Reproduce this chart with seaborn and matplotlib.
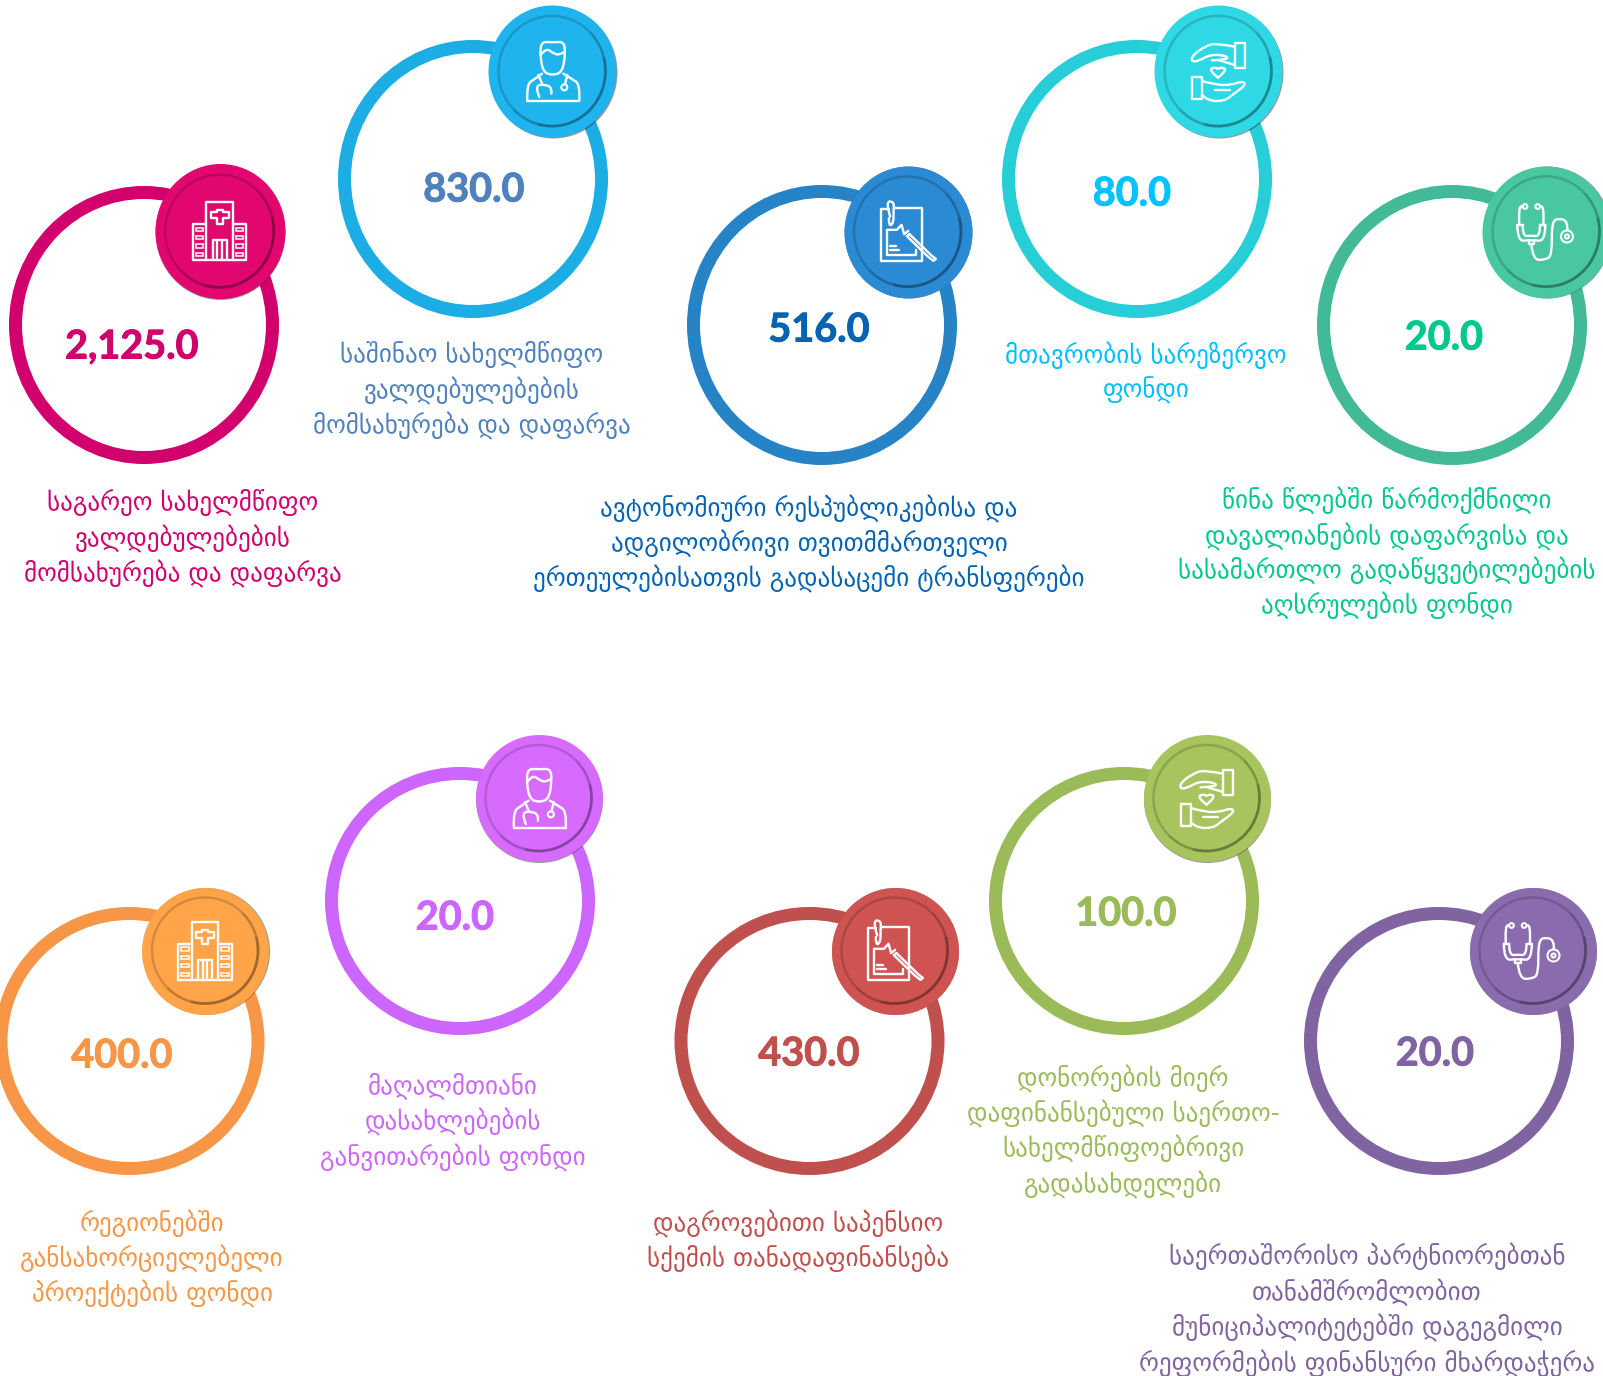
import numpy as np
import pandas as pd
import matplotlib
matplotlib.use("Agg")
import matplotlib.pyplot as plt
import matplotlib.patheffects as pe
import seaborn as sns
from matplotlib.patches import Arc, PathPatch, Rectangle, Ellipse
from matplotlib.path import Path
from matplotlib.transforms import Affine2D

# chart content
values = [2125.0, 830.0, 516.0, 80.0, 20.0, 400.0, 20.0, 430.0, 100.0, 20.0]
labels = [
    ["საგარეო სახელმწიფო", "ვალდებულებების", "მომსახურება და დაფარვა"],
    ["საშინაო სახელმწიფო", "ვალდებულებების", "მომსახურება და დაფარვა"],
    ["ავტონომიური რესპუბლიკებისა და", "ადგილობრივი თვითმმართველი",
     "ერთეულებისათვის გადასაცემი ტრანსფერები"],
    ["მთავრობის სარეზერვო", "ფონდი"],
    ["წინა წლებში წარმოქმნილი", "დავალიანების დაფარვისა და",
     "სასამართლო გადაწყვეტილებების", "აღსრულების ფონდი"],
    ["რეგიონებში", "განსახორციელებელი", "პროექტების ფონდი"],
    ["მაღალმთიანი", "დასახლებების", "განვითარების ფონდი"],
    ["დაგროვებითი საპენსიო", "სქემის თანადაფინანსება"],
    ["დონორების მიერ", "დაფინანსებული საერთო-", "სახელმწიფოებრივი", "გადასახდელები"],
    ["საერთაშორისო პარტნიორებთან", "თანამშრომლობით",
     "მუნიციპალიტეტებში დაგეგმილი", "რეფორმების ფინანსური მხარდაჭერა"],
]

# layout, in pixels of the 1603x1376 picture
ring_x = [144, 473, 822, 1137, 1452, 129.5, 460, 809.5, 1124, 1439]
ring_y = [325, 179, 325, 179, 325, 1041, 901, 1041, 901, 1041]
ring_ry = [139, 139, 140, 139, 140, 134, 134, 134, 134, 134]
badge_x = [219.5, 552, 907.5, 1218, 1546, 205, 538.5, 894.5, 1206.5, 1532.5]
badge_y = [231, 71, 231.5, 71, 231.5, 950.5, 798, 950.5, 798, 950.5]
badge_rx = [65, 64, 64, 64, 64, 63.5, 63.5, 63.5, 63.5, 63.5]
badge_ry = [67.5, 66, 66, 66, 66, 63.5, 63.5, 63.5, 63.5, 63.5]
value_x = [132, 474, 819, 1132, 1444, 122, 455, 809, 1126, 1435]
value_y = [347, 190, 330, 194, 338, 1056, 918, 1054, 914, 1054]
label_x = [183, 472, 809, 1146, 1387, 152, 453, 798, 1123, 1367]
label_y = [
    [502, 538, 573], [354, 390, 425], [508, 543, 578], [355, 390],
    [500, 536, 570, 605], [1223, 1258, 1293], [1086, 1121, 1157],
    [1223, 1258], [1078, 1113, 1148, 1184], [1256, 1292, 1327, 1363],
]
icon_names = ["hospital", "doctor", "document", "hands", "stethoscope"] * 2

ring_colors = ["#D1006C", "#1CADE4", "#2683C6", "#27CED7", "#42BA97",
               "#F79646", "#CC66FF", "#C0504D", "#9BBB59", "#8064A2"]
badge_colors = ["#E2076F", "#20B4EE", "#2B8AD4", "#2ED8E4", "#48C7A1",
                "#FFA448", "#D86BFF", "#CF5451", "#A7C45E", "#8A6CAE"]
value_colors = ["#D1006C", "#4F81BD", "#0563B5", "#00C3FF", "#00C98A",
                "#F79646", "#CC66FF", "#C0504D", "#9BBB59", "#8064A2"]
label_colors = ["#D1006C", "#4F81BD", "#0563B5", "#00BFFF", "#00C98A",
                "#F79646", "#CC66FF", "#C0504D", "#9BBB59", "#8064A2"]

RING_RX = 135
RING_W = 13
PX = 72 / 100  # points per pixel at dpi 100

sns.set_theme(style="white")
plt.rcParams["font.family"] = ["DejaVu Sans"]

fig = plt.figure(figsize=(16.03, 13.76), dpi=100)
ax = fig.add_axes([0, 0, 1, 1])
ax.axis("off")


def ellipse_marker(rx, ry):
    return Path.unit_circle().transformed(Affine2D().scale(rx, ry))


def smooth(pts):
    # quadratic curve through the midpoints of pts
    pts = np.asarray(pts, dtype=float)
    verts, codes = [pts[0]], [Path.MOVETO]
    for i in range(1, len(pts) - 1):
        end = pts[i + 1] if i == len(pts) - 2 else (pts[i] + pts[i + 1]) / 2
        verts += [pts[i], end]
        codes += [Path.CURVE3, Path.CURVE3]
    return Path(verts, codes)


# icon strokes, in 3x pixels around the badge centre
ICONS = {
    "hospital": [
        ("line", [(-40, 87), (-40, -86), (40, -86), (40, 87)]),
        ("line", [(-40, -20), (-80, -20), (-80, 88), (80, 88), (80, -20), (40, -20)]),
        ("line", [(-9, -63), (9, -63), (9, -57), (27, -57), (27, -39), (9, -39), (9, -21),
                  (-9, -21), (-9, -39), (-27, -39), (-27, -57), (-9, -57), (-9, -63)]),
        ("line", [(-21, 88), (-21, 28), (21, 28), (21, 88)]),
        ("line", [(-7, 88), (-7, 28)]), ("line", [(7, 88), (7, 28)]),
    ] + [("rect", (sx - 11, wy, 22, 10)) for sx in (-60, 60) for wy in (-10, 15, 40, 66)],
    "doctor": [
        ("curve", [(-34, -48), (-32, 0), (2, 14), (36, 0), (38, -48)]),
        ("curve", [(-34, -48), (-38, -88), (2, -86), (42, -88), (38, -52)]),
        ("curve", [(-34, -48), (-18, -70), (5, -52), (24, -48), (38, -58)]),
        ("curve", [(-74, 88), (-76, 40), (-52, 24), (-30, 8)]),
        ("curve", [(82, 88), (84, 40), (60, 24), (34, 8)]),
        ("line", [(-74, 89), (82, 89)]),
        ("line", [(-41, 12), (-28, 42)]),
        ("curve", [(-38, 78), (-52, 44), (-22, 40), (0, 50), (-2, 68)]),
        ("line", [(46, 12), (39, 40)]),
        ("circle", (37, 49, 9)),
    ],
    "document": [
        ("line", [(-55, -68), (-80, -68), (-80, 88), (42, 88), (42, -72), (-40, -72)]),
        ("curve", [(-52, -45), (-66, -90), (-40, -90), (-42, -60), (-42, -25), (-56, -15), (-56, -40)]),
        ("line", [(-61, -5), (-32, -5), (-18, -20), (-10, 8), (2, -2)]),
        ("line", [(-61, -5), (-61, 70), (24, 70), (24, 55)]),
        ("line", [(6, 8), (72, 72), (85, 82), (78, 88), (62, 76), (-2, 14), (6, 8)]),
        ("line", [(-52, 42), (-36, 42)]), ("line", [(-52, 56), (-26, 56)]),
    ],
    "hands": [
        ("line", [(50, -83), (80, -83), (80, -8), (50, -8), (50, -83)]),
        ("curve", [(50, -73), (-8, -84), (-38, -74), (-76, -48), (-80, -28), (-58, -30), (-22, -50), (26, -46),
                   (30, -34), (-18, -32)]),
        ("line", [(0, -33), (50, -18)]),
        ("line", [(-78, 19), (-48, 19), (-48, 85), (-78, 85), (-78, 19)]),
        ("curve", [(-48, 30), (-5, 42), (40, 42), (74, 30), (84, 42), (45, 70), (20, 90), (-30, 90), (-48, 72)]),
        ("line", [(-10, 58), (35, 58)]),
        ("curve", [(0, 20), (-28, -3), (-10, -12), (0, -5), (10, -12), (28, -3), (0, 20)]),
    ],
    "stethoscope": [
        ("circle", (-63, -75, 7)), ("circle", (-25, -75, 7)),
        ("curve", [(-73, -75), (-83, -80), (-80, -20)]),
        ("curve", [(-15, -75), (-5, -80), (-8, -20)]),
        ("curve", [(-86, -20), (-86, 30), (-44, 25), (-2, 30), (-2, -20)]),
        ("curve", [(-70, -20), (-70, 15), (-44, 12), (-18, 15), (-18, -20)]),
        ("line", [(-86, -20), (-70, -20)]), ("line", [(-18, -20), (-2, -20)]),
        ("line", [(-52, 24), (-52, 38), (-36, 38), (-36, 24)]),
        ("curve", [(-44, 38), (-40, 85), (0, 85), (18, 70), (17, -30), (40, -40), (65, -30), (64, -6)]),
        ("circle", (63, 15, 18)), ("circle", (63, 15, 6)),
    ],
}


def draw_icon(name, cx, cy):
    for kind, geom in ICONS[name]:
        if kind == "rect":
            x, y, w, h = geom
            art = Rectangle((cx + x / 3, cy + y / 3), w / 3, h / 3, fill=False, ec="white", lw=1.1)
        elif kind == "circle":
            x, y, r = geom
            art = Ellipse((cx + x / 3, cy + y / 3), 2 * r / 3, 2 * r / 3, fill=False, ec="white", lw=1.5)
        else:
            pts = np.asarray(geom, dtype=float) / 3 + [cx, cy]
            path = smooth(pts) if kind == "curve" else Path(pts)
            art = PathPatch(path, fill=False, ec="white", lw=1.7, capstyle="round", joinstyle="round")
        art.set_zorder(6)
        ax.add_patch(art)


df = pd.DataFrame({"x": ring_x, "y": ring_y, "ry": ring_ry, "color": ring_colors})
for row in df.itertuples():
    ry = row.ry - RING_W / 2
    rx = RING_RX - RING_W / 2
    size = (2 * max(rx, ry) * PX) ** 2
    sns.scatterplot(x=[row.x], y=[row.y], s=size, marker=ellipse_marker(rx, ry),
                    facecolor="none", edgecolor=row.color, linewidth=RING_W * PX,
                    legend=False, zorder=2, ax=ax)

for i in range(len(values)):
    cx, cy = badge_x[i], badge_y[i]
    rx, ry = badge_rx[i], badge_ry[i]
    size = (2 * max(rx, ry) * PX) ** 2
    # soft dark rim towards lower right, then the badge, then the groove
    sns.scatterplot(x=[cx + 0.7], y=[cy + 0.7], s=size, marker=ellipse_marker(rx, ry),
                    color="#333333", alpha=0.5, linewidth=0, legend=False, zorder=3, ax=ax)
    sns.scatterplot(x=[cx], y=[cy], s=size, marker=ellipse_marker(rx, ry),
                    color=badge_colors[i], linewidth=0, legend=False, zorder=4, ax=ax)
    w, h = 2 * rx * 0.835, 2 * ry * 0.835
    ax.add_patch(Arc((cx, cy), w, h, lw=1.8, ec="black", alpha=0.16, zorder=5))
    # y axis is inverted, so these angles run through the lower right
    ax.add_patch(Arc((cx, cy), w, h, theta1=-45, theta2=135, lw=1.8, ec="black", alpha=0.10, zorder=5))
    ax.add_patch(Arc((cx, cy), w, h, theta1=-15, theta2=105, lw=2.2, ec="black", alpha=0.16, zorder=5))

    draw_icon(icon_names[i], cx, cy)

for i, v in enumerate(values):
    ax.text(value_x[i], value_y[i], f"{v:,.1f}", color=value_colors[i], fontsize=28.5,
            fontweight="bold", family="Lato", ha="center", va="center", zorder=7,
            path_effects=[pe.withStroke(linewidth=0.7, foreground=value_colors[i])])
    for line, y in zip(labels[i], label_y[i]):
        ax.text(label_x[i], y, line, color=label_colors[i], fontsize=18,
                ha="center", va="center", zorder=7)

ax.set_xlim(0, 1603)
ax.set_ylim(1376, 0)

fig.savefig("out.png", dpi=100, facecolor="white")
